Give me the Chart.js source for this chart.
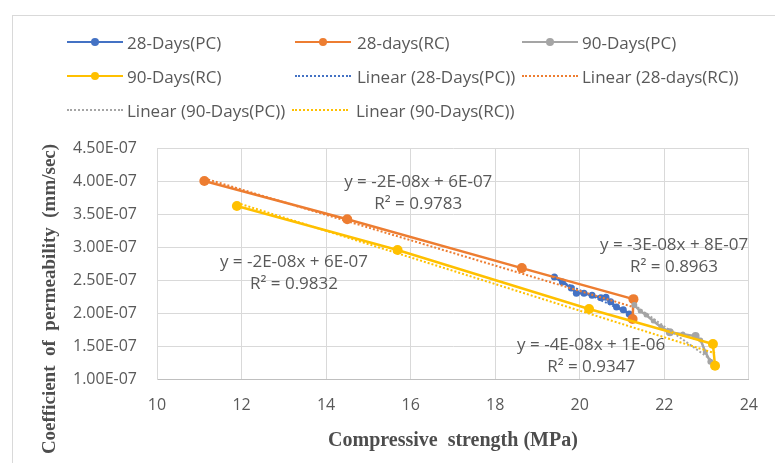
<!DOCTYPE html>
<html>
<head>
<meta charset="utf-8">
<script src="https://cdn.jsdelivr.net/npm/chart.js@4"></script>
<style>
  body { margin: 0; background: #fff; }
  #wrap { position: relative; width: 775px; height: 463px; overflow: hidden; font-family: "Open Sans", sans-serif; }
  #frame { position: absolute; left: 12px; top: 15px; width: 800px; height: 500px; border: 1px solid #d9d9d9; }
  #chart { position: absolute; left: 0; top: 0; }
  .item { position: absolute; height: 20px; display: flex; align-items: center; color: #595959; font-size: 17px; white-space: nowrap; }
  .sw { position: relative; width: 56px; height: 20px; margin-right: 4px; }
  .sw .ln { position: absolute; left: 0; right: 0; top: 9px; border-top: 2.5px solid; }
  .sw .dt { position: absolute; left: 0; right: 0; top: 9px; border-top: 2px dotted; }
  .sw .mk { position: absolute; left: 24px; top: 6px; width: 8px; height: 8px; border-radius: 50%; }
</style>
</head>
<body>
<div id="wrap">
  <div id="frame"></div>
  <canvas id="chart" width="775" height="463"></canvas>
  <div id="legend"></div>
</div>
<script>
// strength (MPa) vs permeability (mm/sec)
const pc28X = [19.40, 19.59, 19.80, 19.92, 20.10, 20.29, 20.50, 20.62, 20.73, 20.87, 21.03, 21.17];
const pc28Y = [2.545e-7, 2.47e-7, 2.38e-7, 2.30e-7, 2.30e-7, 2.27e-7, 2.23e-7, 2.24e-7, 2.17e-7, 2.09e-7, 2.05e-7, 1.985e-7];
const rc28X = [11.12, 14.50, 18.63, 21.27, 21.25];
const rc28Y = [4.00e-7, 3.42e-7, 2.68e-7, 2.21e-7, 1.91e-7];
const pc90X = [21.29, 21.43, 21.57, 21.74, 21.92, 22.13, 22.44, 22.74, 22.86, 22.97, 23.09];
const pc90Y = [2.12e-7, 2.03e-7, 1.97e-7, 1.88e-7, 1.79e-7, 1.71e-7, 1.68e-7, 1.65e-7, 1.59e-7, 1.41e-7, 1.26e-7];
const pc90R = [3, 2.5, 2.5, 2.5, 2.5, 4, 2.5, 4, 2.5, 2.5, 3];
const rc90X = [11.89, 15.69, 20.22, 23.15, 23.20];
const rc90Y = [3.62e-7, 2.955e-7, 2.06e-7, 1.53e-7, 1.20e-7];

// trendline end points
const trendPc28X = [19.40, 21.17];
const trendPc28Y = [2.53e-7, 1.99e-7];
const trendRc28X = [11.12, 21.27];
const trendRc28Y = [4.04e-7, 2.09e-7];
const trendPc90X = [21.29, 23.09];
const trendPc90Y = [2.12e-7, 1.30e-7];
const trendRc90X = [11.89, 23.20];
const trendRc90Y = [3.67e-7, 1.39e-7];

const seriesNames = ['28-Days(PC)', '28-days(RC)', '90-Days(PC)', '90-Days(RC)',
  'Linear (28-Days(PC))', 'Linear (28-days(RC))', 'Linear (90-Days(PC))', 'Linear (90-Days(RC))'];
const xTickValues = [10, 12, 14, 16, 18, 20, 22, 24];
const yTickValues = [1.0e-7, 1.5e-7, 2.0e-7, 2.5e-7, 3.0e-7, 3.5e-7, 4.0e-7, 4.5e-7];
const yTickLabels = ['1.00E-07', '1.50E-07', '2.00E-07', '2.50E-07', '3.00E-07', '3.50E-07', '4.00E-07', '4.50E-07'];
const equations = [
  ['y = -3E-08x + 8E-07', 'R² = 0.8963'],
  ['y = -2E-08x + 6E-07', 'R² = 0.9783'],
  ['y = -4E-08x + 1E-06', 'R² = 0.9347'],
  ['y = -2E-08x + 6E-07', 'R² = 0.9832']
];
const xTitle = 'Compressive  strength (MPa)';
const yTitle = 'Coefficient  of  permeability  (mm/sec)';

const colors = ['#4472C4', '#ED7D31', '#A5A5A5', '#FFC000'];
// where each equation sits (data units)
const eqAnchors = [[22.23, 3.03e-7], [16.18, 3.985e-7], [20.27, 1.515e-7], [13.24, 2.77e-7]];

function pts(xs, ys) {
    return xs.map((x, i) => ({ x: x, y: ys[i] }));
}

function lineSet(i, xs, ys, r, order) {
    return {
        label: seriesNames[i], data: pts(xs, ys), showLine: true,
        borderColor: colors[i], backgroundColor: colors[i], borderWidth: 2.5,
        pointRadius: r, pointBorderWidth: 0, order: order
    };
}

function trendSet(i, xs, ys, order) {
    return {
        label: seriesNames[i + 4], data: pts(xs, ys), showLine: true,
        borderColor: colors[i], borderWidth: 2, borderDash: [2, 2],
        pointRadius: 0, order: order
    };
}

const labelsPlugin = {
    id: 'labels',
    afterDatasetsDraw(chart) {
        const ctx = chart.ctx;
        const xs = chart.scales.x, ys = chart.scales.y;
        ctx.save();
        ctx.fillStyle = '#595959';
        ctx.font = '17px "Open Sans"';
        ctx.textAlign = 'center';
        ctx.textBaseline = 'middle';
        equations.forEach((eq, i) => {
            const px = xs.getPixelForValue(eqAnchors[i][0]);
            const py = ys.getPixelForValue(eqAnchors[i][1]);
            ctx.fillText(eq[0], px, py);
            ctx.fillText(eq[1], px, py + 22);
        });
        // axis titles
        ctx.fillStyle = '#4d4d4d';
        ctx.font = 'bold 20px "Liberation Serif"';
        ctx.fillText(xTitle, (xs.left + xs.right) / 2, 441);
        ctx.font = 'bold 19px "Liberation Serif"';
        ctx.translate(50, 299);
        ctx.rotate(-Math.PI / 2);
        ctx.fillText(yTitle, 0, 0);
        ctx.restore();
    }
};

function buildLegend() {
    const legend = document.getElementById('legend');
    const spots = [[67, 42, 4], [295, 42, 6], [522, 42, 4], [67, 76, 4], [295, 76, 6], [522, 76, 4], [67, 110, 4], [292, 110, 8]];
    seriesNames.forEach((name, i) => {
        const item = document.createElement('div');
        item.className = 'item';
        item.style.left = spots[i][0] + 'px';
        item.style.top = (spots[i][1] - 10) + 'px';
        const sw = document.createElement('div');
        sw.className = 'sw';
        sw.style.marginRight = spots[i][2] + 'px';
        const c = colors[i % 4];
        if (i < 4) {
            sw.innerHTML = '<div class="ln" style="border-color:' + c + '"></div><div class="mk" style="background:' + c + '"></div>';
        } else {
            sw.innerHTML = '<div class="dt" style="border-color:' + c + '"></div>';
        }
        item.appendChild(sw);
        const t = document.createElement('span');
        t.textContent = name;
        item.appendChild(t);
        legend.appendChild(item);
    });
}

document.addEventListener("DOMContentLoaded", function () {
    buildLegend();
    const ctx = document.getElementById('chart').getContext('2d');
    const gray = lineSet(2, pc90X, pc90Y, 3, 6);
    gray.pointRadius = pc90R;
    new Chart(ctx, {
        type: 'scatter',
        data: {
            datasets: [
                lineSet(0, pc28X, pc28Y, 3.5, 8),
                lineSet(1, rc28X, rc28Y, 5, 7),
                gray,
                lineSet(3, rc90X, rc90Y, 5, 5),
                trendSet(0, trendPc28X, trendPc28Y, 4),
                trendSet(1, trendRc28X, trendRc28Y, 3),
                trendSet(2, trendPc90X, trendPc90Y, 2),
                trendSet(3, trendRc90X, trendRc90Y, 1)
            ]
        },
        options: {
            responsive: false,
            animation: false,
            layout: { padding: { left: 0, top: 148, right: 18, bottom: 0 } },
            plugins: { legend: { display: false }, tooltip: { enabled: false } },
            scales: {
                x: {
                    type: 'linear', min: 10, max: 24,
                    afterBuildTicks: s => { s.ticks = xTickValues.map(v => ({ value: v })); },
                    afterFit: s => { s.height = 84; },
                    grid: { color: '#d9d9d9', drawTicks: false },
                    border: { color: '#bfbfbf' },
                    ticks: { color: '#595959', font: { family: 'Open Sans', size: 16 }, padding: 17 }
                },
                y: {
                    type: 'linear', min: 1e-7, max: 4.5e-7,
                    afterBuildTicks: s => { s.ticks = yTickValues.map(v => ({ value: v })); },
                    afterFit: s => { s.width = 157; },
                    grid: { color: '#d9d9d9', drawTicks: false },
                    border: { color: '#d9d9d9' },
                    ticks: {
                        color: '#595959', font: { family: 'Open Sans', size: 16 }, padding: 20,
                        callback: (v, i) => yTickLabels[i]
                    }
                }
            }
        },
        plugins: [labelsPlugin]
    });
});
</script>
</body>
</html>
